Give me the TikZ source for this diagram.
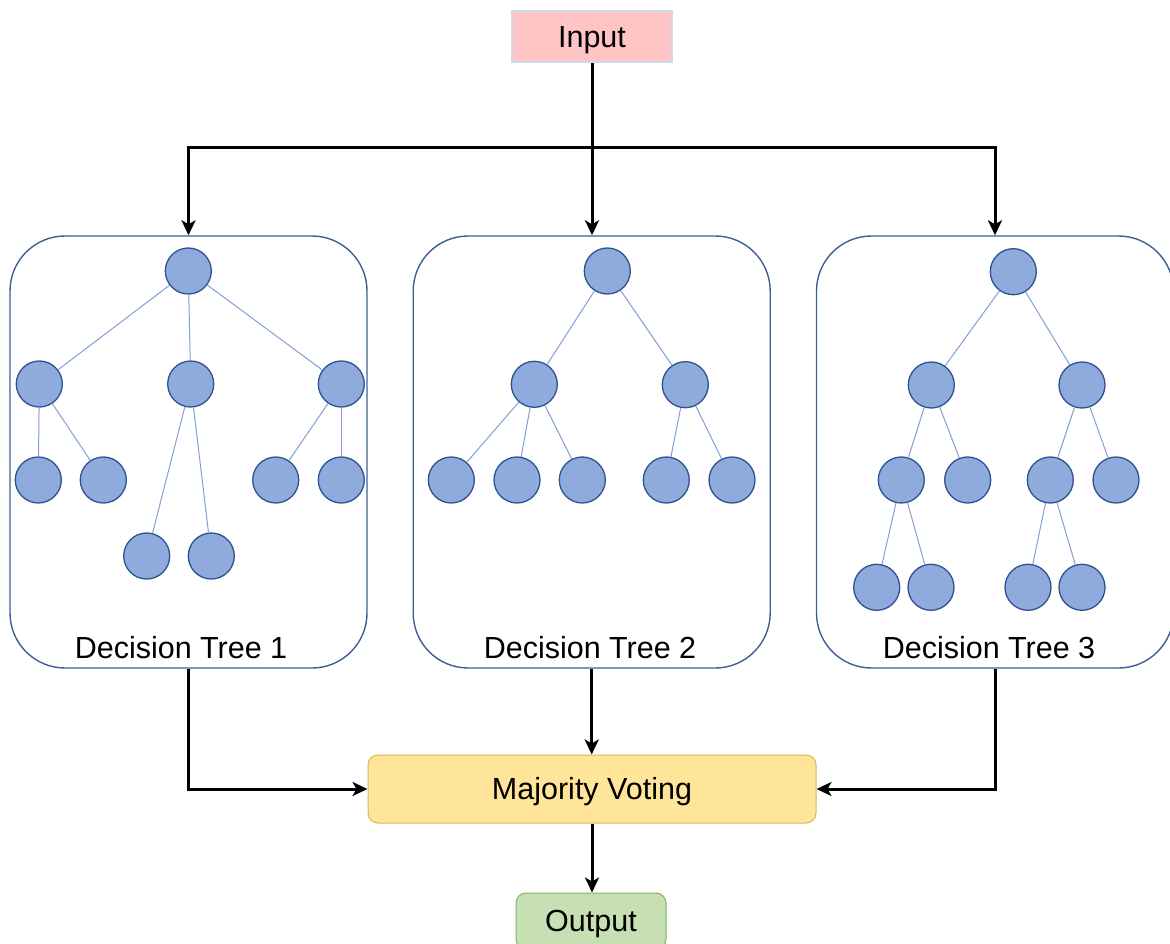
\documentclass[tikz,border=0pt]{standalone}
\usepackage{fontspec}
\setmainfont{Liberation Sans}
\usetikzlibrary{arrows.meta}

\definecolor{leaffill}{HTML}{8FAADC}
\definecolor{leafline}{HTML}{2F528F}
\definecolor{edgeblue}{HTML}{819FD4}
\definecolor{panelline}{HTML}{3F5C96}
\definecolor{inputfill}{HTML}{FFC4C4}
\definecolor{inputline}{HTML}{D3D6EC}
\definecolor{votefill}{HTML}{FFE599}
\definecolor{voteline}{HTML}{D6B656}
\definecolor{outfill}{HTML}{C6E0B4}
\definecolor{outline}{HTML}{82B366}

\tikzset{
  txt/.style={font=\fontsize{30.5}{36}\selectfont, text=black},
  boxtxt/.style={txt, text height=21.8pt, text depth=0pt},
  panel/.style={draw=panelline, line width=1.4, rounded corners=55,
    minimum width=357, minimum height=432, inner sep=0},
  leaf/.style={circle, draw=leafline, fill=leaffill, line width=1.3,
    minimum size=46, inner sep=0},
  branch/.style={draw=edgeblue, line width=1},
  flow/.style={draw=black, line width=3,
    -{Stealth[length=15, width=14, inset=4]}},
  trunk/.style={draw=black, line width=3},
  inbox/.style={boxtxt, rectangle, fill=inputfill, draw=inputline, line width=2,
    minimum width=160, minimum height=51, inner sep=0},
  votebox/.style={boxtxt, rectangle, rounded corners=10, fill=votefill,
    draw=voteline, line width=1, minimum width=448, minimum height=68, inner sep=0},
  resbox/.style={boxtxt, rectangle, rounded corners=10, fill=outfill,
    draw=outline, line width=1, minimum width=150, minimum height=56, inner sep=0},
}

\begin{document}
\begin{tikzpicture}[x=1pt, y=-1pt]
\useasboundingbox (0,0) rectangle (1170,944);
\clip (0,0) rectangle (1170,944);

% ---- source and fan-out ----
\node[inbox] (input) at (592,37) {Input};
\coordinate (split) at (592,148);

% ---- the three tree panels ----
\node[panel] (tree1) at (188.5,452) {};
\node[panel] (tree2) at (591.7,452) {};
\node[panel] (tree3) at (995,452) {};

\node[txt, anchor=base] (cap1) at (181,658) {Decision Tree 1};
\node[txt, anchor=base] (cap2) at (590,658) {Decision Tree 2};
\node[txt, anchor=base] (cap3) at (989,658) {Decision Tree 3};

% ---- tree 1 ----
\node[leaf] (a0) at (188.3,271) {};
\node[leaf] (a1) at (39.3,384) {};
\node[leaf] (a2) at (190.7,384) {};
\node[leaf] (a3) at (341.3,384) {};
\node[leaf] (a4) at (38.3,480) {};
\node[leaf] (a5) at (103.3,480) {};
\node[leaf] (a6) at (275.7,480) {};
\node[leaf] (a7) at (341.3,480) {};
\node[leaf] (a8) at (146.7,556) {};
\node[leaf] (a9) at (211.3,556) {};
\foreach \p/\c in {a0/a1, a0/a2, a0/a3, a1/a4, a1/a5, a2/a8, a2/a9, a3/a6, a3/a7}
  \draw[branch] (\p) -- (\c);

% ---- tree 2 ----
\node[leaf] (b0) at (607.3,271) {};
\node[leaf] (b1) at (534.3,384.3) {};
\node[leaf] (b2) at (685.3,384.7) {};
\node[leaf] (b3) at (451.3,480) {};
\node[leaf] (b4) at (517,480) {};
\node[leaf] (b5) at (582.3,480) {};
\node[leaf] (b6) at (666.3,480) {};
\node[leaf] (b7) at (732,480) {};
\foreach \p/\c in {b0/b1, b0/b2, b1/b3, b1/b4, b1/b5, b2/b6, b2/b7}
  \draw[branch] (\p) -- (\c);

% ---- tree 3 ----
\node[leaf] (c0) at (1013.3,271.7) {};
\node[leaf] (c1) at (931.3,385) {};
\node[leaf] (c2) at (1082,385) {};
\node[leaf] (c3) at (901.3,480) {};
\node[leaf] (c4) at (967.7,480) {};
\node[leaf] (c5) at (1050.3,480) {};
\node[leaf] (c6) at (1116,480) {};
\node[leaf] (c7) at (876.7,587.3) {};
\node[leaf] (c8) at (931,587.3) {};
\node[leaf] (c9) at (1028,587.3) {};
\node[leaf] (c10) at (1082,587.3) {};
\foreach \p/\c in {c0/c1, c0/c2, c1/c3, c1/c4, c2/c5, c2/c6, c3/c7, c3/c8, c5/c9, c5/c10}
  \draw[branch] (\p) -- (\c);

% ---- aggregation ----
\node[votebox] (vote) at (592,789) {Majority Voting};
\node[resbox] (output) at (591,921) {Output};

% ---- connectors ----
\draw[trunk] (input.south) -- (split);
\draw[flow] (split) -| (tree1.north);
\draw[flow] (split) -- (split |- tree2.north);
\draw[flow] (split) -| (tree3.north);

\draw[flow] (tree1.south) |- (vote.west);
\draw[flow] (tree2.south) -- (tree2.south |- vote.north);
\draw[flow] (tree3.south) |- (vote.east);
\draw[flow] (vote.south) -- (vote.south |- output.north);
\end{tikzpicture}
\end{document}
